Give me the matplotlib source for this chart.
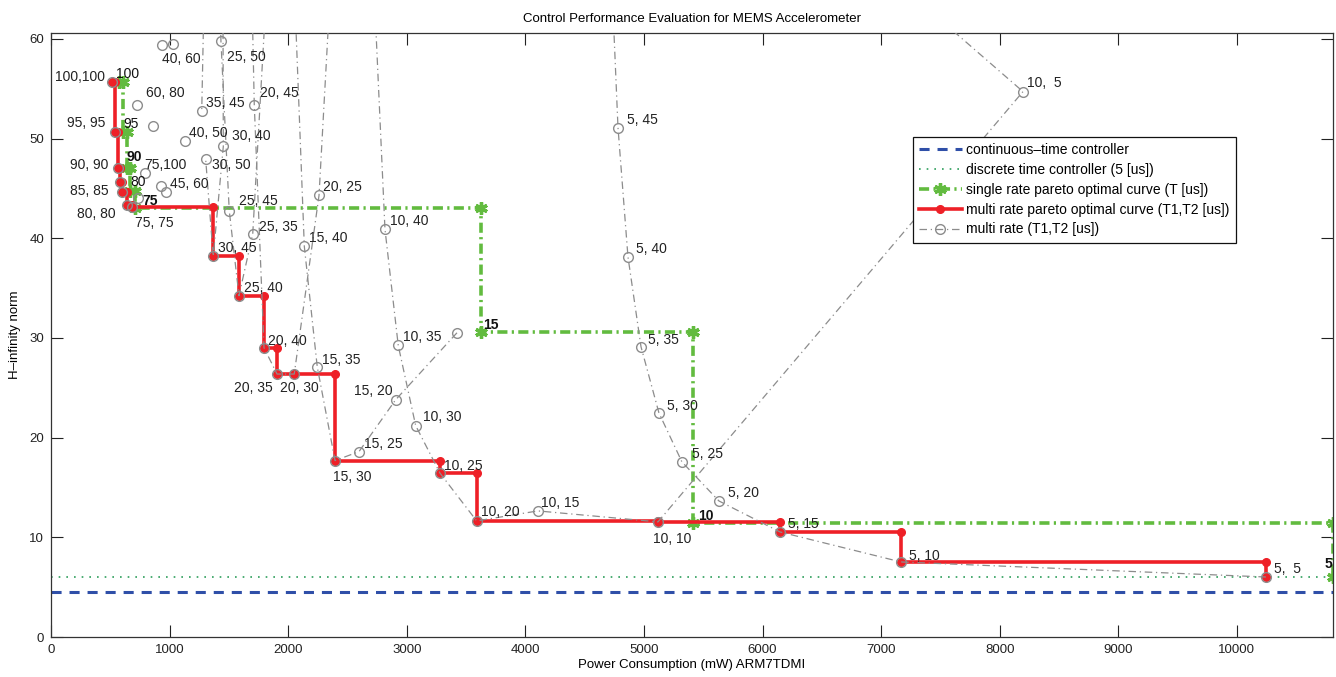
import numpy as np
import matplotlib
matplotlib.use('Agg')
import matplotlib.pyplot as plt

plt.rcParams['font.family'] = ['Liberation Sans', 'DejaVu Sans']

# ---------------- data ----------------
ct_hinf = 4.55          # continuous-time controller
dt_hinf = 6.02          # discrete time controller (5 us)

# single rate pareto optimal points
sr_T = ['100', '95', '90', '80', '75', '15', '10', '5']
sr_power = [573, 611, 637, 670, 708, 3626, 5413, 10810]
sr_hinf = [55.7, 50.7, 47.1, 44.7, 43.0, 30.6, 11.45, 6.02]
sr_bold = [False, False, True, False, True, True, True, True]

# multi rate points (T1,T2); points of one group are joined by one dash-dot line
mr_name = ['5,  5', '5, 10', '5, 15', '5, 20', '5, 25', '5, 30', '5, 35', '5, 40', '5, 45', '5,50', '5,100',
           '10,  5', '10, 10', '10, 15', '10, 20', '10, 25', '10, 30', '10, 35', '10, 40', '10,45',
           '15,15', '15, 20', '15, 25', '15, 30', '15, 35', '15, 40', '15,45',
           '20,20', '20, 25', '20, 30', '20, 35', '20, 40', '20, 45', '20,50',
           '25,30', '25, 35', '25, 40', '25, 45', '25, 50', '25,55',
           '30,35', '30, 40', '30, 45', '30, 50',
           '35,40', '35, 45',
           '40, 50', '40,55', '40, 60', '45,55', '45, 60', '60, 80', '55,70', '75,100', '75,90',
           '100,100', '95, 95', '90, 90', '88,88', '85, 85', '80, 80', '75, 75']
mr_group = [0] * 20 + [1] * 7 + [2] * 7 + [3] * 6 + [4] * 4 + [5] * 2 + list(range(6, 22))
mr_power = [10244, 7167, 6147, 5632, 5320, 5126, 4975, 4865, 4781, 4735, 4400,
            8196, 5118, 4106, 3589, 3280, 3075, 2928, 2816, 2728,
            3423, 2906, 2597, 2395, 2245, 2136, 2056,
            2351, 2260, 2051, 1906, 1796, 1714, 1695,
            1813, 1701, 1585, 1503, 1433, 1425,
            1450, 1453, 1368, 1304,
            1290, 1271,
            1130, 1026, 933, 970, 925, 728, 857, 793, 736,
            517, 540, 567, 582, 601, 643, 680]
mr_hinf = [6.02, 7.53, 10.54, 13.65, 17.57, 22.49, 29.12, 38.15, 51.10, 64.0, 94.0,
           54.72, 11.55, 12.65, 11.65, 16.44, 21.21, 29.25, 40.93, 64.0,
           30.52, 23.80, 18.60, 17.70, 27.11, 39.19, 64.0,
           64.0, 44.31, 26.38, 26.38, 29.02, 53.41, 64.0,
           64.0, 40.43, 34.24, 42.77, 59.77, 64.0,
           64.0, 49.23, 38.18, 47.96,
           64.0, 52.74,
           49.80, 59.54, 59.44, 44.65, 45.28, 53.41, 51.31, 46.56, 44.05,
           55.7, 50.7, 47.1, 45.7, 44.6, 43.3, 43.1]

# multi rate pareto optimal points (subset of the multi rate points, in order)
mp_name = ['100,100', '95, 95', '90, 90', '88,88', '85, 85', '80, 80', '75, 75', '30, 45', '25, 40',
           '20, 40', '20, 35', '20, 30', '15, 30', '10, 25', '10, 20', '10, 10', '5, 15', '5, 10', '5,  5']

# label placement (pixel offsets, alignment) -- style only
mr_label_pos = {
    '100,100': (-7, 5, 'right'), '95, 95': (-10, 9, 'right'), '90, 90': (-10, 3, 'right'),
    '85, 85': (-14, 1, 'right'), '80, 80': (-12, -9, 'right'), '75, 75': (3, -16, 'left'),
    '40, 60': (0, -14, 'left'), '25, 50': (6, -16, 'left'), '60, 80': (9, 12, 'left'),
    '35, 45': (4, 8, 'left'), '20, 45': (6, 12, 'left'), '40, 50': (4, 8, 'left'),
    '30, 40': (9, 10, 'left'), '30, 50': (6, -6, 'left'), '75,100': (-1, 8, 'left'),
    '45, 60': (9, 2, 'left'), '25, 45': (10, 10, 'left'), '20, 25': (4, 8, 'left'),
    '25, 35': (6, 7, 'left'), '15, 40': (5, 8, 'left'), '10, 40': (5, 8, 'left'),
    '30, 45': (5, 8, 'left'), '25, 40': (5, 8, 'left'), '20, 40': (4, 7, 'left'),
    '10, 35': (5, 8, 'left'), '15, 35': (5, 7, 'left'), '15, 20': (-3, 9, 'right'),
    '10, 30': (7, 9, 'left'), '15, 25': (5, 8, 'left'), '15, 30': (-2, -16, 'left'),
    '10, 25': (4, 7, 'left'), '20, 35': (-4, -14, 'right'), '20, 30': (-14, -14, 'left'),
    '10, 20': (4, 9, 'left'), '10, 15': (3, 8, 'left'), '10, 10': (-5, -17, 'left'),
    '5, 15': (8, 8, 'left'), '5, 10': (8, 6, 'left'), '5,  5': (8, 8, 'left'),
    '5, 20': (9, 8, 'left'), '5, 25': (10, 8, 'left'), '5, 30': (8, 7, 'left'),
    '5, 35': (7, 7, 'left'), '5, 40': (8, 8, 'left'), '5, 45': (9, 8, 'left'),
    '10,  5': (4, 9, 'left'),
}
sr_label_pos = [(-3, 8, 'left'), (0, 8, 'left'), (0, 11, 'left'), (0, 9, 'left'),
                (7, 7, 'left'), (2, 7, 'left'), (5, 7, 'left'), (-1, 13, 'right')]

# ---------------- colours ----------------
c_blue = '#2F4FA8'
c_dotted = '#2E9E5B'
c_green = '#62BB3F'
c_red = '#EE2027'
c_grey = '#8C8C8C'

# ---------------- figure ----------------
fig = plt.figure(figsize=(13.36, 6.77), dpi=100)
ax = fig.add_axes([51 / 1336, 40 / 677, 1282 / 1336, 604 / 677])

xmax = max(sr_power)
ax.set_xlim(0, xmax)
ax.set_ylim(0, 60.6)

h1, = ax.plot([0, xmax], [ct_hinf, ct_hinf], '--', color=c_blue, lw=2.2, dashes=(3.3, 2.6),
              label='continuous\u2013time controller')
h2, = ax.plot([0, xmax], [dt_hinf, dt_hinf], ':', color=c_dotted, lw=1.2, dashes=(1.0, 3.6),
              label='discrete time controller (5 [us])')


def stairs(xs, ys):
    vx, vy = [xs[0]], [ys[0]]
    for i in range(1, len(xs)):
        vx += [xs[i], xs[i]]
        vy += [ys[i - 1], ys[i]]
    return vx, vy


sx, sy = stairs(sr_power, sr_hinf)
h3, = ax.plot(sx, sy, '-.', color=c_green, lw=2.6, marker=(6, 2, 0), ms=9, mew=2.4,
              mec=c_green, mfc=c_green, label='single rate pareto optimal curve (T [us])',
              dashes=(2.8, 1.2, 0.6, 1.2))

idx = {n: i for i, n in enumerate(mr_name)}
mpx = [mr_power[idx[n]] for n in mp_name]
mpy = [mr_hinf[idx[n]] for n in mp_name]
rx, ry = stairs(mpx, mpy)
h4, = ax.plot(rx, ry, '-', color=c_red, lw=2.6, marker='o', ms=5.5, mec=c_red, mfc=c_red,
              label='multi rate pareto optimal curve (T1,T2 [us])', zorder=4)

mr_power_a = np.array(mr_power, float)
mr_hinf_a = np.array(mr_hinf, float)
mr_group_a = np.array(mr_group)
h5 = None
for g in sorted(set(mr_group)):
    sel = mr_group_a == g
    ln, = ax.plot(mr_power_a[sel], mr_hinf_a[sel], '-.', color=c_grey, lw=0.9,
                  marker='o', ms=7, mfc='none', mec=c_grey, mew=1.0,
                  dashes=(6, 3, 1, 3), zorder=5)
    if h5 is None:
        h5 = ln
h5.set_label('multi rate (T1,T2 [us])')

for n, (dx, dy, ha) in mr_label_pos.items():
    i = idx[n]
    ax.annotate(n, (mr_power[i], mr_hinf[i]), xytext=(dx, dy), textcoords='offset pixels',
                ha=ha, va='center', fontsize=10, color='#222222', zorder=6)

for i, t in enumerate(sr_T):
    dx, dy, ha = sr_label_pos[i]
    ax.annotate(t, (sr_power[i], sr_hinf[i]), xytext=(dx, dy), textcoords='offset pixels',
                ha=ha, va='center', fontsize=10, color='#111111',
                fontweight='bold' if sr_bold[i] else 'normal', zorder=6)

ax.set_xticks(np.arange(0, 10001, 1000))
ax.set_yticks(np.arange(0, 61, 10))
ax.tick_params(direction='in', top=True, right=True, length=8.5, width=0.8,
               labelsize=9.5, colors='#222222', pad=5)
for s in ax.spines.values():
    s.set_linewidth(0.9)
    s.set_color('#333333')

ax.set_title('Control Performance Evaluation for MEMS Accelerometer', fontsize=9.5, pad=8)
ax.set_xlabel('Power Consumption (mW) ARM7TDMI', fontsize=9.5, labelpad=2)
ax.set_ylabel('H\u2013infinity norm', fontsize=9.5, labelpad=6)

leg = ax.legend(handles=[h1, h2, h3, h4, h5], loc='upper left', bbox_to_anchor=(0.672, 0.828),
                borderaxespad=0, fontsize=10, numpoints=1, handlelength=3.1,
                handletextpad=0.3, labelspacing=0.42, fancybox=False, framealpha=1,
                edgecolor='#111111', borderpad=0.45)
leg.get_frame().set_linewidth(0.9)
leg.set_zorder(10)

fig.savefig('out.png', dpi=100)
